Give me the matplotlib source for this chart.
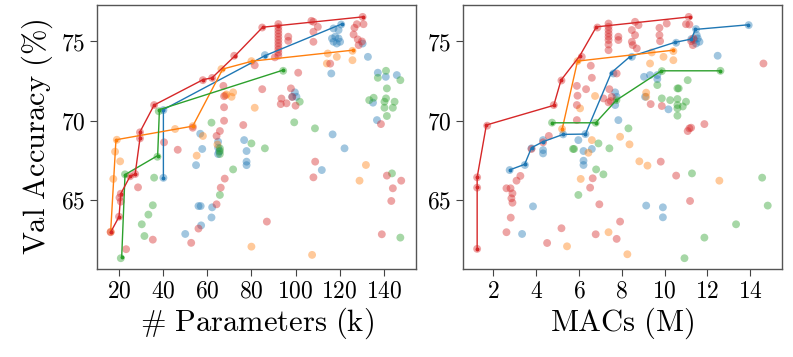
import matplotlib
matplotlib.use("Agg")
from matplotlib import pyplot as plt

plt.rcParams['mathtext.fontset'] = 'cm'
plt.rcParams['font.family'] = 'serif'
plt.rcParams['font.serif'] = ['cmr10', 'DejaVu Serif']
plt.rcParams['axes.formatter.use_mathtext'] = True

# colours of the four model families
colors = ['tab:blue', 'tab:orange', 'tab:green', 'tab:red']

# ---- left panel: parameters (k) vs val accuracy ----
blue_params = [40.1, 40.1, 50.0, 54.9, 56.0, 57.0, 56.8, 57.2, 57.7, 61.9, 62.2, 64.9, 64.9, 64.9, 65.4,
               76.7, 77.8, 77.8, 77.8, 86.1, 98.5, 99.7, 100.4, 111.9, 116.2, 116.5, 116.8, 117.2, 117.2,
               118.0, 118.7, 119.5, 119.5, 120.2, 120.7, 122.2, 130.4, 132.8, 135.1, 136.9, 137.3, 140.9, 145.9]
blue_params_acc = [70.67, 66.4, 62.86, 67.2, 64.62, 64.62, 69.18, 63.4, 68.22, 63.9, 64.54, 68.68, 68.3, 67.9,
                   68.05, 68.78, 68.09, 67.42, 67.2, 74.14, 71.51, 71.79, 71.51, 66.89, 72.98, 75.19, 69.14,
                   75.82, 74.98, 75.3, 74.87, 75.72, 75.19, 74.98, 76.07, 68.26, 74.87, 74.03, 71.14, 70.04,
                   73.03, 72.77, 72.88]
orange_params = [16.2, 17.4, 18.2, 19.0, 20.5, 45.4, 55.2, 58.0, 64.6, 66.4, 68.2, 68.7, 71.0, 71.7, 80.0,
                 80.0, 81.5, 107.5, 114.2, 114.6, 118.7, 125.8, 125.8, 129.0, 131.9, 53.4]
orange_params_acc = [63.0, 66.33, 68.05, 68.8, 67.44, 69.48, 67.8, 69.04, 68.5, 73.26, 71.6, 71.66, 71.51,
                     71.79, 73.76, 62.06, 70.82, 61.54, 73.61, 74.24, 74.03, 74.41, 73.82, 66.22, 67.21, 69.66]
green_params = [20.8, 22.7, 30.3, 31.5, 33.3, 35.3, 35.9, 37.4, 38.0, 61.9, 65.7, 65.7, 65.7, 65.7, 71.7,
                80.0, 86.1, 94.4, 99.4, 101.9, 108.8, 133.4, 135.4, 137.3, 140.3, 140.3, 141.0, 141.0,
                141.4, 141.4, 143.7, 144.1, 144.9, 147.5, 147.5]
green_params_acc = [61.33, 66.62, 63.47, 62.73, 64.08, 64.67, 66.41, 67.73, 70.6, 69.88, 68.26, 68.1, 67.9,
                    65.32, 66.93, 68.57, 68.26, 73.15, 69.9, 71.2, 69.52, 71.3, 71.45, 72.71, 71.2, 70.82,
                    73.15, 71.41, 72.04, 70.3, 66.68, 70.82, 71.2, 72.56, 62.63]
red_params = [16.2, 20.0, 20.2, 20.8, 20.8, 23.2, 25.0, 27.3, 28.6, 29.5, 29.5, 35.3, 35.9, 40.4, 46.6,
              52.7, 53.4, 56.0, 58.0, 62.2, 64.2, 64.2, 65.7, 66.1, 67.3, 67.6, 67.6, 67.6, 67.9, 72.2,
              76.3, 81.5, 84.9, 84.9, 87.0, 90.6, 92.2, 92.2, 92.2, 92.2, 92.2, 92.2, 92.2, 92.2, 92.2,
              92.2, 92.2, 93.3, 93.6, 95.9, 96.7, 96.7, 97.9, 98.5, 100.0, 101.2, 107.2, 108.1, 108.1,
              108.1, 108.1, 108.9, 110.1, 115.7, 126.3, 126.7, 127.8, 128.2, 128.6, 130.1, 130.4, 130.8,
              138.7, 139.1, 141.4, 143.4, 144.1, 147.9]
red_params_acc = [62.97, 63.95, 65.15, 65.4, 64.9, 61.9, 66.5, 66.64, 65.8, 69.27, 68.89, 62.5, 70.99, 68.64,
                  68.17, 62.3, 69.56, 63.2, 72.56, 72.7, 69.04, 64.73, 69.35, 65.78, 72.2, 71.55, 70.85, 70.0,
                  66.35, 74.1, 69.73, 73.5, 75.88, 71.99, 63.64, 74.0, 76.1, 75.9, 75.7, 75.5, 75.3, 75.1,
                  74.9, 74.7, 74.5, 74.3, 74.1, 71.05, 71.4, 71.1, 75.3, 75.04, 72.04, 71.5, 70.95, 73.03,
                  76.3, 76.24, 75.61, 74.98, 66.43, 67.42, 75.92, 73.6, 75.44, 75.86, 76.09, 75.13, 74.77,
                  75.0, 76.55, 76.09, 69.79, 62.84, 66.54, 64.94, 65.74, 66.22]

# pareto fronts (params)
blue_front_params = [40.1, 40.1, 86.1, 120.9]
blue_front_params_acc = [66.4, 70.7, 74.1, 76.1]
orange_front_params = [16.2, 18.6, 53.4, 67.0, 80.4, 125.9]
orange_front_params_acc = [63.0, 68.8, 69.66, 73.26, 73.76, 74.45]
green_front_params = [21.2, 22.7, 37.5, 38.3, 94.5]
green_front_params_acc = [61.4, 66.6, 67.8, 70.7, 73.2]
red_front_params = [16.2, 20.0, 20.8, 25.0, 27.3, 29.5, 29.5, 35.9, 58.2, 62.1, 72.6, 85.1, 92.2, 130.4]
red_front_params_acc = [62.97, 63.95, 65.4, 66.5, 66.64, 68.9, 69.3, 70.99, 72.6, 72.7, 74.1, 75.9, 76.0, 76.55]

# ---- right panel: MACs (M) vs val accuracy ----
blue_macs = [2.76, 3.34, 3.47, 3.78, 3.85, 4.32, 4.32, 4.32, 5.26, 5.97, 6.21, 6.21, 6.21, 6.6, 7.61, 7.69,
             7.69, 7.76, 7.84, 8.47, 9.04, 9.09, 9.14, 9.32, 9.66, 9.66, 9.92, 9.92, 10.18, 10.54, 11.39,
             11.47, 11.47, 11.5, 11.55, 11.63, 12.48, 13.93, 6.3, 11.25]
blue_macs_acc = [66.89, 62.86, 67.21, 68.26, 64.6, 68.78, 68.15, 67.94, 69.14, 68.78, 68.09, 67.48, 67.21,
                 68.22, 72.98, 71.79, 70.99, 71.51, 70.04, 74.03, 72.77, 71.51, 64.65, 72.88, 72.88, 72.63,
                 64.54, 63.91, 70.72, 74.92, 75.09, 75.78, 74.87, 75.4, 75.19, 74.98, 74.1, 76.03, 69.16, 75.15]
orange_macs = [5.21, 5.44, 5.93, 6.05, 6.08, 6.44, 6.6, 6.75, 7.38, 7.92, 8.26, 8.36, 8.82, 9.14, 9.14, 9.2,
               9.32, 9.4, 9.95, 10.41, 10.41, 12.56]
orange_macs_acc = [69.48, 62.08, 73.76, 70.78, 66.33, 67.98, 68.78, 71.56, 62.97, 68.99, 61.58, 68.51, 67.44,
                   71.77, 71.51, 67.17, 73.61, 74.31, 74.03, 74.39, 73.82, 66.22]
green_macs = [4.74, 5.72, 5.77, 5.97, 6.8, 6.78, 6.91, 7.14, 7.42, 8.31, 9.66, 9.87, 9.87, 10.26, 10.6, 10.6,
              10.6, 10.6, 10.6, 10.66, 10.85, 10.93, 11.0, 11.08, 11.28, 11.86, 12.61, 13.34, 14.56, 14.82, 7.75]
green_macs_acc = [69.88, 68.22, 68.22, 65.32, 66.93, 69.87, 68.57, 66.62, 68.26, 69.52, 72.25, 73.13, 71.41,
                  71.3, 72.04, 71.37, 70.99, 70.78, 70.32, 72.04, 70.9, 61.33, 71.2, 72.56, 66.68, 62.63,
                  73.15, 63.47, 66.41, 64.65, 71.3]
red_macs = [1.24, 1.24, 1.24, 1.71, 2.61, 2.61, 2.80, 2.81, 2.84, 2.89, 2.89, 3.08, 3.26, 3.78, 4.32, 4.51,
            4.59, 4.82, 5.18, 5.18, 5.9, 5.9, 5.9, 5.93, 6.13, 6.33, 6.52, 6.55, 6.6, 6.64, 6.78, 6.86, 6.95,
            7.14, 7.38, 7.38, 7.38, 7.38, 7.38, 7.38, 7.38, 7.38, 7.38, 7.42, 7.48, 7.53, 7.76, 7.76, 7.84,
            7.84, 7.92, 8.47, 8.47, 8.51, 8.62, 8.62, 8.7, 8.78, 9.35, 9.76, 9.76, 9.79, 9.82, 9.87, 10.1,
            10.54, 11.0, 11.08, 11.13, 11.16, 11.16, 11.19, 11.24, 11.24, 11.32, 11.35, 11.86, 14.62]
red_macs_acc = [61.92, 65.78, 66.43, 69.69, 65.74, 62.97, 65.74, 63.89, 65.11, 65.42, 64.83, 66.22, 66.52,
                68.22, 68.64, 62.29, 69.04, 70.99, 72.54, 63.22, 72.2, 70.99, 70.04, 71.58, 74.03, 71.99,
                65.78, 73.47, 72.71, 66.37, 62.84, 75.88, 64.73, 71.41, 76.13, 75.93, 75.72, 75.5, 75.3,
                75.09, 74.81, 74.45, 71.16, 71.99, 71.24, 71.51, 72.98, 62.55, 75.3, 75.09, 63.64, 75.72,
                74.98, 74.77, 76.24, 75.4, 74.56, 76.03, 71.05, 75.86, 75.4, 75.02, 67.42, 70.93, 76.13,
                66.54, 76.09, 69.35, 76.55, 76.07, 69.52, 64.94, 75.02, 69.56, 74.77, 75.19, 69.79, 73.61]

# pareto fronts (MACs)
blue_front_macs = [2.76, 3.46, 3.78, 4.32, 5.26, 6.3, 7.51, 8.37, 10.47, 11.25, 11.44, 13.9]
blue_front_macs_acc = [66.9, 67.25, 68.3, 68.68, 69.14, 69.16, 73.03, 74.03, 74.94, 75.15, 75.76, 76.05]
orange_front_macs = [5.21, 5.93, 10.4]
orange_front_macs_acc = [69.45, 73.76, 74.45]
green_front_macs = [4.76, 6.78, 7.75, 9.85, 12.6]
green_front_macs_acc = [69.87, 69.87, 71.3, 73.15, 73.15]
red_front_macs = [1.24, 1.24, 1.24, 1.67, 4.82, 5.16, 6.03, 6.81, 11.17]
red_front_macs_acc = [61.93, 65.8, 66.43, 69.73, 70.97, 72.56, 74.08, 75.92, 76.55]

left_pts = [(blue_params, blue_params_acc), (orange_params, orange_params_acc),
            (green_params, green_params_acc), (red_params, red_params_acc)]
left_fronts = [(blue_front_params, blue_front_params_acc), (orange_front_params, orange_front_params_acc),
               (green_front_params, green_front_params_acc), (red_front_params, red_front_params_acc)]
right_pts = [(blue_macs, blue_macs_acc), (orange_macs, orange_macs_acc),
             (green_macs, green_macs_acc), (red_macs, red_macs_acc)]
right_fronts = [(blue_front_macs, blue_front_macs_acc), (orange_front_macs, orange_front_macs_acc),
                (green_front_macs, green_front_macs_acc), (red_front_macs, red_front_macs_acc)]

fig = plt.figure(figsize=(7.93, 3.57), dpi=100)
ax1 = fig.add_axes([0.1223, 0.2465, 0.4023, 0.7395])
ax2 = fig.add_axes([0.5839, 0.2465, 0.4023, 0.7395])


def draw(ax, pts, fronts):
    for (x, y), c in zip(pts, colors):
        ax.scatter(x, y, s=32, color=c, alpha=0.42, edgecolors='none', zorder=2)
    for (x, y), c in zip(fronts, colors):
        ax.plot(x, y, '-o', color=c, lw=1.0, ms=1.8, zorder=3)
    ax.set_ylim(60.65, 77.3)
    ax.set_yticks([65, 70, 75])
    ax.tick_params(labelsize=17, length=5, width=0.8, color='#444444')
    for s in ax.spines.values():
        s.set_color('#555555')
        s.set_linewidth(1.0)


draw(ax1, left_pts, left_fronts)
ax1.set_xlim(10, 154.6)
ax1.set_xticks([20, 40, 60, 80, 100, 120, 140])
ax1.set_xlabel(r'$\mathrm{\#\ Parameters\ (k)}$', fontsize=22, labelpad=2)
ax1.set_ylabel(r'$\mathrm{Val\ Accuracy\ (\%)}$', fontsize=22, labelpad=4)

draw(ax2, right_pts, right_fronts)
ax2.set_xlim(0.58, 15.49)
ax2.set_xticks([2, 4, 6, 8, 10, 12, 14])
ax2.set_xlabel(r'$\mathrm{MACs\ (M)}$', fontsize=22, labelpad=2)

fig.savefig('out.png', dpi=100)
